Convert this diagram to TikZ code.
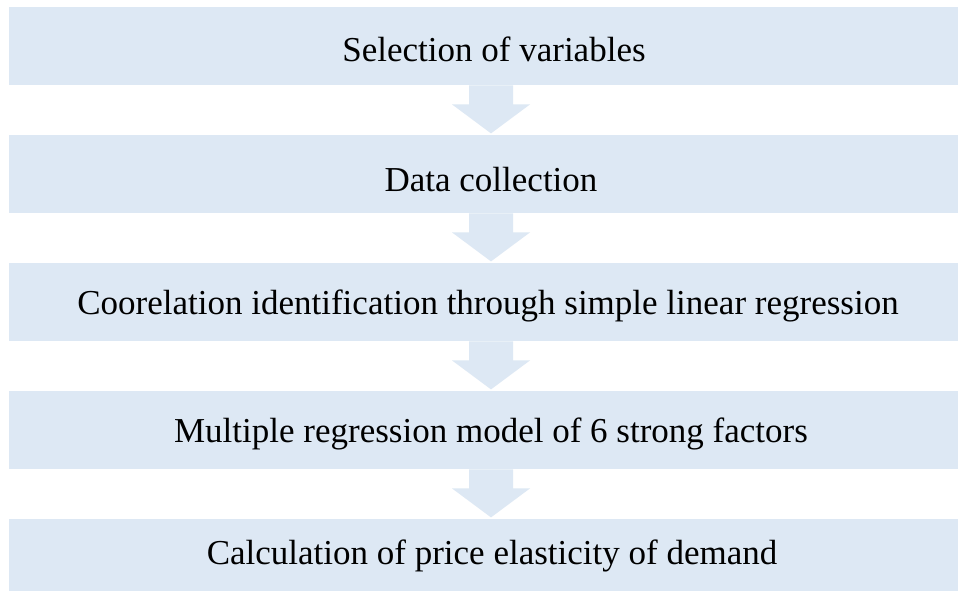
\documentclass[tikz,border=0pt]{standalone}
\usepackage{fontspec}
\setmainfont{Liberation Serif}
\definecolor{boxblue}{HTML}{DDE8F4}
\begin{document}
\begin{tikzpicture}[x=1pt,y=-1pt,
  stepbox/.style={fill=boxblue,draw=none,minimum width=949pt,minimum height=78pt,inner sep=0pt,anchor=north west},
  steptext/.style={font=\fontsize{35}{40}\selectfont,text=black,inner sep=0pt},
  flowarrow/.style={fill=boxblue,draw=none}]
\useasboundingbox (0,0) rectangle (958,591);
\fill[white] (0,0) rectangle (958,591);
\begin{scope}
\clip (0,0) rectangle (958,591);
\node[stepbox] (b1) at (9,7) {};
\node[stepbox] (b2) at (9,135) {};
\node[stepbox] (b3) at (9,263) {};
\node[stepbox] (b4) at (9,391) {};
\node[stepbox] (b5) at (9,519) {};
\end{scope}
\node[steptext] (t1) at (494,49) {Selection of variables};
\node[steptext] (t2) at (491,180) {Data collection};
\node[steptext] (t3) at (488,306) {Coorelation identification through simple linear regression};
\node[steptext] (t4) at (491,434) {Multiple regression model of 6 strong factors};
\node[steptext] (t5) at (492,556) {Calculation of price elasticity of demand};
\foreach \a in {b1,b2,b3,b4}{
  \path (\a.south west) coordinate (s\a);
  \fill[flowarrow] (s\a) ++(460,0) -- ++(44,0) -- ++(0,19) -- ++(17,0) -- ++(-39,29) -- ++(-39,-29) -- ++(17,0) -- cycle;
}
\end{tikzpicture}
\end{document}
